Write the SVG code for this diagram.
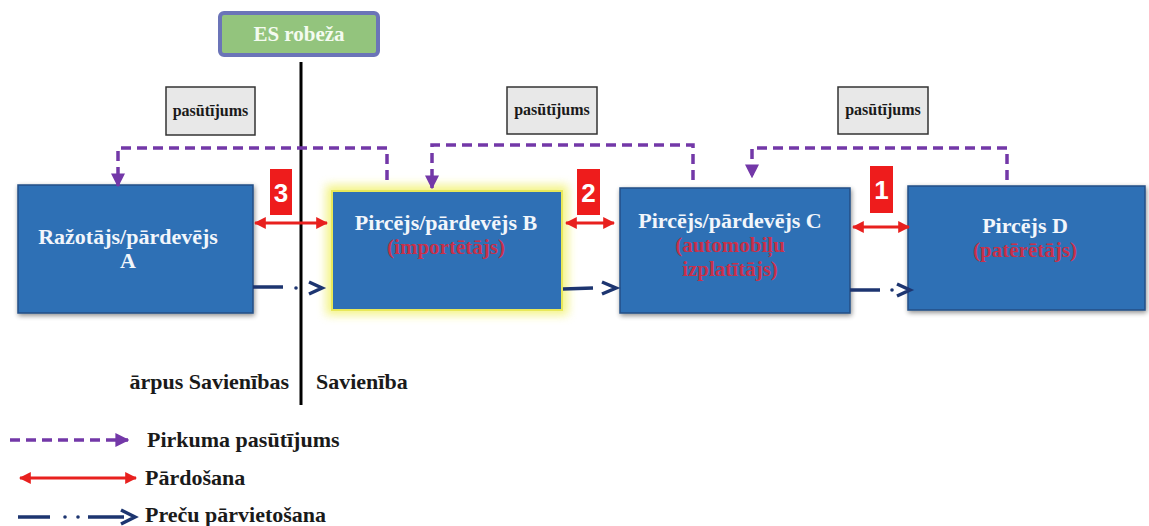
<svg xmlns="http://www.w3.org/2000/svg" width="1149" height="526" viewBox="0 0 1149 526">
<defs>
<style>
.node{fill:#2f70b5;stroke:#254f86;stroke-width:1.5}
.nt{font-family:"Liberation Serif",serif;font-weight:bold;font-size:22px;fill:#f2f6fb;text-anchor:middle}
.rt{font-family:"Liberation Serif",serif;font-weight:bold;font-size:21px;fill:#c8304a;text-anchor:middle}
.lbl{font-family:"Liberation Serif",serif;font-weight:bold;font-size:22px;fill:#1a1a1a}
.pbox{fill:#e8e8e8;stroke:#333;stroke-width:1.5}
.ptxt{font-family:"Liberation Serif",serif;font-weight:bold;font-size:16px;fill:#1a1a1a;text-anchor:middle}
.ord{fill:none;stroke:#7338a8;stroke-width:3.5;stroke-dasharray:10 6}
.sale{fill:none;stroke:#e8201e;stroke-width:3}
.goods{fill:none;stroke:#1d3570;stroke-width:3.5}
.chev{fill:none;stroke:#1d3570;stroke-width:3.5}
.badge{fill:#ee1c1c}
.bt{font-family:"Liberation Sans",sans-serif;font-weight:bold;font-size:26px;fill:#ffffff;text-anchor:middle}
</style>
<marker id="ordArr" viewBox="0 0 10 10" refX="9" refY="5" markerWidth="4" markerHeight="4" orient="auto-start-reverse" markerUnits="strokeWidth">
<path d="M0,0 L10,5 L0,10 z" fill="#7338a8"/>
</marker>
<marker id="saleArr" viewBox="0 0 10 10" refX="9" refY="5" markerWidth="4" markerHeight="4" orient="auto-start-reverse" markerUnits="strokeWidth">
<path d="M0,0 L10,5 L0,10 z" fill="#e8201e"/>
</marker>
<filter id="sh" x="-10%" y="-10%" width="120%" height="120%">
<feGaussianBlur in="SourceAlpha" stdDeviation="2.5"/>
<feOffset dx="1" dy="2"/>
<feComponentTransfer><feFuncA type="linear" slope="0.45"/></feComponentTransfer>
<feMerge><feMergeNode/><feMergeNode in="SourceGraphic"/></feMerge>
</filter>
<filter id="glow" x="-20%" y="-20%" width="140%" height="140%">
<feGaussianBlur stdDeviation="5"/>
</filter>
</defs>
<rect width="1149" height="526" fill="#ffffff"/>

<g id="border-label">
<rect x="220" y="13" width="158" height="42" rx="4" fill="#93c47d" stroke="#6b74b8" stroke-width="4"/>
<text x="299" y="41" font-family="Liberation Serif,serif" font-weight="bold" font-size="21" fill="#f4fbf0" text-anchor="middle">ES robeža</text>
</g>

<g id="border-line">
<line x1="301" y1="62" x2="301" y2="405" stroke="#000" stroke-width="3"/>
<text x="289" y="389" class="lbl" text-anchor="end">ārpus Savienības</text>
<text x="316" y="389" class="lbl">Savienība</text>
</g>

<g id="order-labels">
<rect class="pbox" x="166" y="87" width="89" height="48"/>
<text class="ptxt" x="210.5" y="116">pasūtījums</text>
<rect class="pbox" x="507" y="87" width="90" height="47"/>
<text class="ptxt" x="552" y="115">pasūtījums</text>
<rect class="pbox" x="838" y="87" width="90" height="47"/>
<text class="ptxt" x="883" y="115">pasūtījums</text>
</g>

<g id="nodeA">
<rect class="node" x="18" y="185" width="235" height="128" filter="url(#sh)"/>
<text class="nt" x="128" y="244">Ražotājs/pārdevējs</text>
<text class="nt" x="128" y="268">A</text>
</g>

<g id="nodeB">
<rect x="326" y="185" width="242" height="130" fill="#f0f060" opacity="0.75" filter="url(#glow)"/>
<rect x="332" y="191" width="230" height="119" fill="#2f70b5" stroke="#e8e85a" stroke-width="2"/>
<text class="nt" x="446" y="230">Pircējs/pārdevējs B</text>
<text class="rt" x="446" y="254">(importētājs)</text>
</g>

<g id="nodeC">
<rect class="node" x="620" y="188" width="230" height="125" filter="url(#sh)"/>
<text class="nt" x="730" y="228">Pircējs/pārdevējs C</text>
<text class="rt" x="730" y="252">(automobiļu</text>
<text class="rt" x="730" y="276">izplatītājs)</text>
</g>

<g id="nodeD">
<rect class="node" x="908" y="186" width="237" height="124" filter="url(#sh)"/>
<text class="nt" x="1025" y="233">Pircējs D</text>
<text class="rt" x="1025" y="257">(patērētājs)</text>
</g>

<g id="connectors">
<path class="ord" d="M387,180 L387,148 L118,148 L118,186" marker-end="url(#ordArr)"/>
<path class="ord" d="M693,180 L693,145 L432,145 L432,188" marker-end="url(#ordArr)"/>
<path class="ord" d="M1007,180 L1007,148 L752,148 L752,177" marker-end="url(#ordArr)"/>

<line class="sale" x1="255" y1="223" x2="327" y2="223" marker-start="url(#saleArr)" marker-end="url(#saleArr)"/>
<line class="sale" x1="566" y1="223" x2="614" y2="223" marker-start="url(#saleArr)" marker-end="url(#saleArr)"/>
<line class="sale" x1="853" y1="227" x2="909" y2="227" marker-start="url(#saleArr)" marker-end="url(#saleArr)"/>

<line class="goods" x1="253" y1="287" x2="283" y2="287"/>
<circle cx="296" cy="288" r="1.8" fill="#1d3570"/>
<path class="chev" d="M309,282 L322,288 L309,294"/>

<line class="goods" x1="563" y1="289" x2="593" y2="288"/>
<path class="chev" d="M602,282 L616,288 L602,294"/>

<line class="goods" x1="850" y1="290" x2="880" y2="290"/>
<circle cx="892" cy="290" r="1.8" fill="#1d3570"/>
<path class="chev" d="M897,284 L910,290 L897,296"/>

<rect class="badge" x="270" y="169" width="22" height="46"/>
<text class="bt" x="281" y="202">3</text>
<rect class="badge" x="577" y="169" width="23" height="46"/>
<text class="bt" x="588.5" y="202">2</text>
<rect class="badge" x="870" y="166" width="23" height="47"/>
<text class="bt" x="881.5" y="199">1</text>
</g>

<g id="legend">
<line class="ord" x1="10" y1="440" x2="128" y2="440" marker-end="url(#ordArr)"/>
<text class="lbl" x="147" y="447">Pirkuma pasūtījums</text>
<line class="sale" x1="20" y1="478" x2="136" y2="478" marker-start="url(#saleArr)" marker-end="url(#saleArr)"/>
<text class="lbl" x="145" y="485">Pārdošana</text>
<line class="goods" x1="18" y1="517" x2="50" y2="517"/>
<circle cx="65" cy="517" r="1.8" fill="#1d3570"/>
<circle cx="78" cy="517" r="1.8" fill="#1d3570"/>
<line class="goods" x1="88" y1="517" x2="124" y2="517"/>
<path class="chev" d="M121,510 L135,517 L121,524"/>
<text class="lbl" x="145" y="522">Preču pārvietošana</text>
</g>
</svg>
